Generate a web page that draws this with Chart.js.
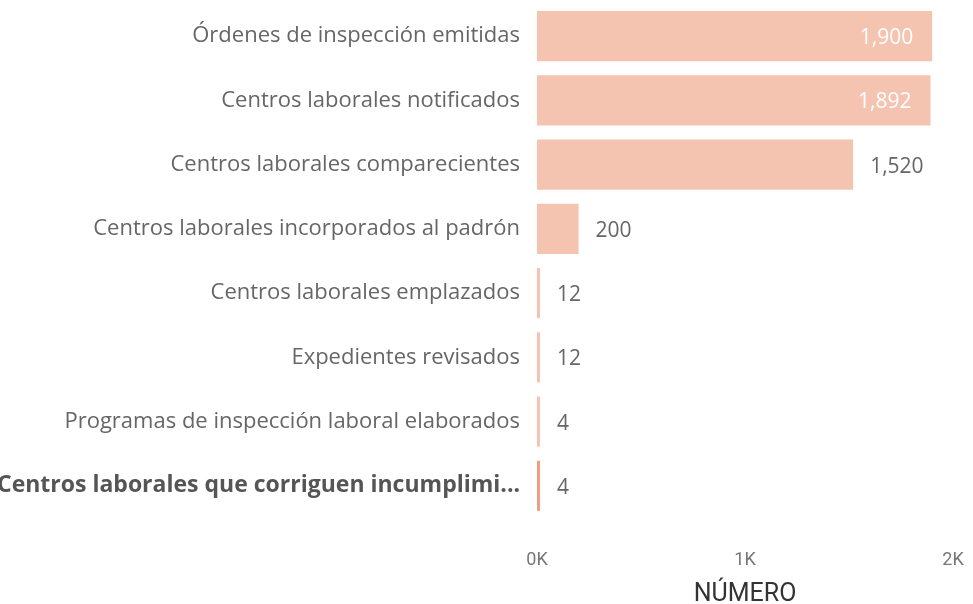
<!DOCTYPE html>
<html lang="es">
<head>
    <meta charset="UTF-8">
    <title>Inspección laboral</title>
    <script src="https://cdn.jsdelivr.net/npm/chart.js"></script>
    <style>
        body {
            margin: 0;
            background: #fff;
        }
        #chartContainer {
            width: 973px;
            height: 604px;
        }
    </style>
</head>
<body>
    <div id="chartContainer">
        <canvas id="inspeccionChart"></canvas>
    </div>

    <script>
        const categorias = [
            'Órdenes de inspección emitidas',
            'Centros laborales notificados',
            'Centros laborales comparecientes',
            'Centros laborales incorporados al padrón',
            'Centros laborales emplazados',
            'Expedientes revisados',
            'Programas de inspección laboral elaborados',
            'Centros laborales que corriguen incumplimi...'
        ];
        const valores = [1900, 1892, 1520, 200, 12, 12, 4, 4];
        const marcaX = [0, 1000, 2000];

        const colorBarra = '#F4C4B0';
        const colorSeleccion = '#EE9F80';
        const ultimo = categorias.length - 1;

        // etiquetas de valor: fuera de la barra si caben, si no dentro en blanco
        const etiquetasValor = {
            id: 'etiquetasValor',
            afterDatasetsDraw(chart) {
                const c = chart.ctx;
                const area = chart.chartArea;
                const meta = chart.getDatasetMeta(0);
                c.save();
                c.font = '21px "Open Sans", sans-serif';
                c.textBaseline = 'middle';
                meta.data.forEach((bar, i) => {
                    const txt = valores[i].toLocaleString('en-US');
                    const w = c.measureText(txt).width;
                    if (bar.x + 17 + w <= area.right) {
                        c.fillStyle = '#666';
                        c.textAlign = 'left';
                        c.fillText(txt, bar.x + 17, bar.y + 2);
                    } else {
                        c.fillStyle = '#fff';
                        c.textAlign = 'right';
                        c.fillText(txt, bar.x - 19, bar.y + 2);
                    }
                });
                c.restore();
            }
        };

        const ctx = document.getElementById('inspeccionChart').getContext('2d');
        const chart = new Chart(ctx, {
            type: 'bar',
            data: {
                labels: categorias,
                datasets: [{
                    data: valores,
                    backgroundColor: valores.map((v, i) => i === ultimo ? colorSeleccion : colorBarra),
                    borderWidth: 0,
                    minBarLength: 3,
                    categoryPercentage: 1,
                    barPercentage: 0.78
                }]
            },
            options: {
                indexAxis: 'y',
                responsive: true,
                maintainAspectRatio: false,
                animation: false,
                layout: {
                    padding: { top: 4, right: 20, bottom: 0, left: 0 }
                },
                scales: {
                    x: {
                        min: 0,
                        max: 2000,
                        afterBuildTicks: (scale) => {
                            scale.ticks = marcaX.map(v => ({ value: v }));
                        },
                        afterFit: (scale) => {
                            scale.height = 86;
                            scale.paddingLeft = 0;
                            scale.paddingRight = 0;
                        },
                        grid: { display: false, drawTicks: false },
                        border: { display: false },
                        ticks: {
                            padding: 32,
                            color: '#777',
                            maxRotation: 0,
                            font: { family: 'Roboto, sans-serif', size: 18 },
                            callback: (v) => (v / 1000) + 'K'
                        },
                        title: {
                            display: true,
                            text: 'NÚMERO',
                            color: '#333',
                            padding: { top: 0, bottom: -6 },
                            font: { family: 'Roboto, sans-serif', size: 25 }
                        }
                    },
                    y: {
                        afterFit: (scale) => {
                            scale.width = 537;
                            scale.paddingTop = 0;
                            scale.paddingBottom = 0;
                        },
                        grid: { display: false, drawTicks: false },
                        border: { display: false },
                        ticks: {
                            padding: 17,
                            color: (c) => c.index === ultimo ? '#555' : '#666',
                            font: (c) => ({
                                family: '"Open Sans", sans-serif',
                                size: c.index === ultimo ? 23 : 22,
                                weight: c.index === ultimo ? 'bold' : 'normal'
                            })
                        }
                    }
                },
                plugins: {
                    legend: { display: false },
                    tooltip: { enabled: false }
                }
            },
            plugins: [etiquetasValor]
        });
    </script>
</body>
</html>
